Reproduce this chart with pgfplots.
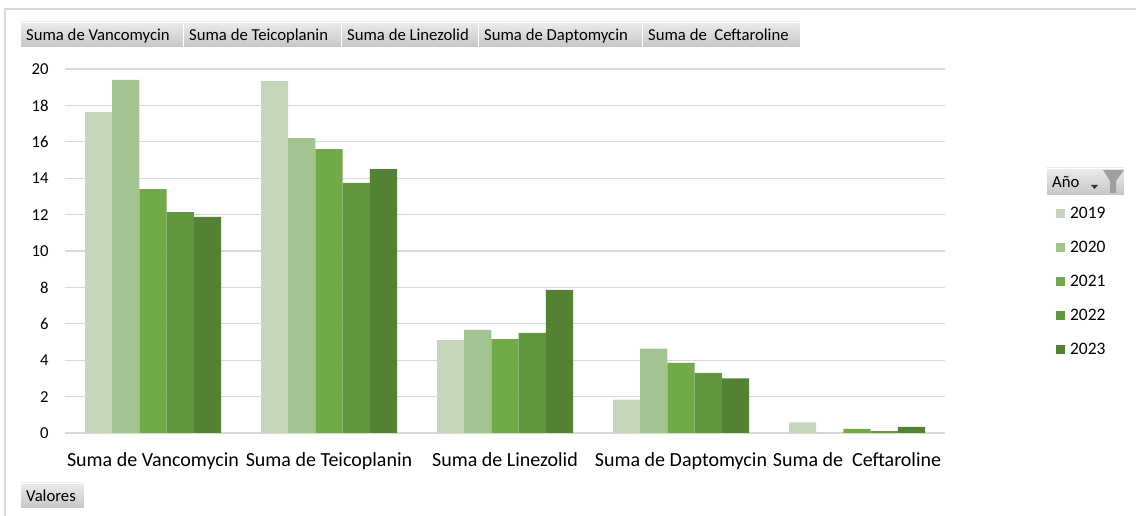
\documentclass[border=0pt]{standalone}
\usepackage{pgfplots}
\pgfplotsset{compat=1.18}
\usepackage{fontspec}
\setmainfont{Carlito}
\definecolor{c19}{HTML}{C4D7BC}
\definecolor{c20}{HTML}{A3C491}
\definecolor{c21}{HTML}{70AB47}
\definecolor{c22}{HTML}{62983D}
\definecolor{c23}{HTML}{548235}
\definecolor{gridc}{HTML}{D9D9D9}
\tikzset{btn/.style={top color={rgb,255:red,236;green,236;blue,236}, bottom color={rgb,255:red,198;green,198;blue,198}, draw=white, line width=0.6pt}}
\begin{document}
\begin{tikzpicture}
\useasboundingbox (0pt,0pt) rectangle (1136pt,516pt);
\begin{scope}[x=1pt,y=-1pt,yshift=516pt]
\draw[gridc, line width=1.2pt] (5,516) -- (5,9) -- (1136,9);
% top buttons
\shade[btn] (20,22) rectangle (183,47);
\shade[btn] (183,22) rectangle (341,47);
\shade[btn] (341,22) rectangle (478,47);
\shade[btn] (478,22) rectangle (642,47);
\shade[btn] (642,22) rectangle (800,47);
\shade[btn] (20,483) rectangle (84,508);
\shade[btn] (1046,168) rectangle (1124,195);
\begin{scope}[every node/.style={anchor=base west, inner sep=0pt, font=\fontsize{16.7}{19}\selectfont}]
\node at (26,40.5) {Suma de Vancomycin};
\node at (189,40.5) {Suma de Teicoplanin};
\node at (347,40.5) {Suma de Linezolid};
\node at (484,40.5) {Suma de Daptomycin};
\node at (648,40.5) {Suma de\ \ Ceftaroline};
\node at (26,501.5) {Valores};
\node at (1052,188) {Año};
\end{scope}
\fill[gray!75] (1103,170) -- (1124,170) -- (1116,181) -- (1116,193) -- (1110,193) -- (1110,181) -- cycle;
\fill[black!80] (1091,185) -- (1098,185) -- (1094.5,189) -- cycle;
\end{scope}
\begin{axis}[
  at={(65pt,83pt)}, anchor=south west,
  scale only axis, width=880pt, height=364pt,
  xmin=-0.5, xmax=4.5, ymin=0, ymax=20,
  ybar=0pt, bar width=27.2pt,
  xtick={0,1,2,3,4},
  xticklabels={Suma de Vancomycin, Suma de Teicoplanin, Suma de Linezolid, Suma de Daptomycin, {Suma de\ \ Ceftaroline}},
  ytick={0,2,...,20},
  ymajorgrids, grid style={draw=gridc, line width=1.2pt},
  axis x line*=bottom, axis y line*=left,
  x axis line style={draw=gridc, line width=1.5pt, -},
  y axis line style={draw=none},
  major tick length=0pt,
  /pgf/number format/assume math mode=true,
  yticklabel style={font=\fontsize{16.7}{19}\selectfont, anchor=east, xshift=-13pt},
  xticklabel style={font=\fontsize{20}{23}\selectfont, anchor=base, yshift=-34pt},
  legend style={at={(axis description cs:1.126,0.622)}, anchor=north west, draw=none, fill=none,
     font=\fontsize{17.5}{20}\selectfont, row sep=21pt, inner sep=0pt,
     nodes={inner sep=1pt, text height=11pt, text depth=0pt},
     /tikz/every odd column/.append style={column sep=4pt}},
  legend cell align=left,
  legend image code/.code={\fill[#1] (0pt,-4.5pt) rectangle (9pt,4.5pt);},
  clip=false,
]
\addplot[fill=c19, draw=none] coordinates {(0,17.64) (1,19.34) (2,5.10) (3,1.84) (4,0.59)};
\addplot[fill=c20, draw=none] coordinates {(0,19.40) (1,16.20) (2,5.66) (3,4.64) (4,0)};
\addplot[fill=c21, draw=none] coordinates {(0,13.40) (1,15.60) (2,5.16) (3,3.85) (4,0.22)};
\addplot[fill=c22, draw=none] coordinates {(0,12.14) (1,13.74) (2,5.50) (3,3.30) (4,0.10)};
\addplot[fill=c23, draw=none] coordinates {(0,11.87) (1,14.50) (2,7.86) (3,3.00) (4,0.33)};
\legend{2019,2020,2021,2022,2023}
\end{axis}
\end{tikzpicture}
\end{document}
